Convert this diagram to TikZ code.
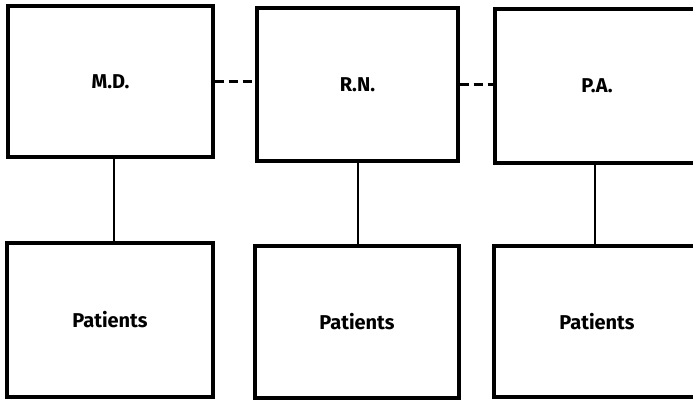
\documentclass[tikz,border=0pt]{standalone}
\usepackage{fontspec}
\setmainfont{Fira Sans}
\begin{document}
\begin{tikzpicture}[x=1pt,y=1pt,
  unit/.style={draw, line width=3.2pt, rectangle, inner sep=0pt,
    font=\fontsize{20}{24}\selectfont\bfseries},
  link/.style={line width=2pt},
  peer/.style={line width=3pt, dash pattern=on 9pt off 5pt}]
  \useasboundingbox (0,0) rectangle (693,401);
  \clip (0,0) rectangle (693,401);
  % staff row
  \node[unit, minimum width=205pt, minimum height=151pt] (md) at (110.5,319.5) {M.D.};
  \node[unit, minimum width=201pt, minimum height=153pt] (rn) at (357.5,316.5) {R.N.};
  \node[unit, minimum width=220pt, minimum height=154pt] (pa) at (605,315) {P.A.\hspace*{16pt}};
  % patient row
  \node[unit, minimum width=206pt, minimum height=154pt] (p1) at (110,81) {Patients};
  \node[unit, minimum width=204pt, minimum height=152pt] (p2) at (357,79) {Patients};
  \node[unit, minimum width=222pt, minimum height=151pt] (p3) at (605,79.5) {Patients\hspace*{16pt}};
  % dashed ties between staff
  \draw[peer] (md.east) -- (md.east -| rn.west);
  \draw[peer] (rn.east) -- (rn.east -| pa.west);
  % each staff member to own patients
  \draw[link] ([xshift=3.5pt]md.south) -- ([xshift=3.5pt]md.south |- p1.north);
  \draw[link] (rn.south) -- (rn.south |- p2.north);
  \draw[link] ([xshift=-10pt]pa.south) -- ([xshift=-10pt]pa.south |- p3.north);
\end{tikzpicture}
\end{document}
